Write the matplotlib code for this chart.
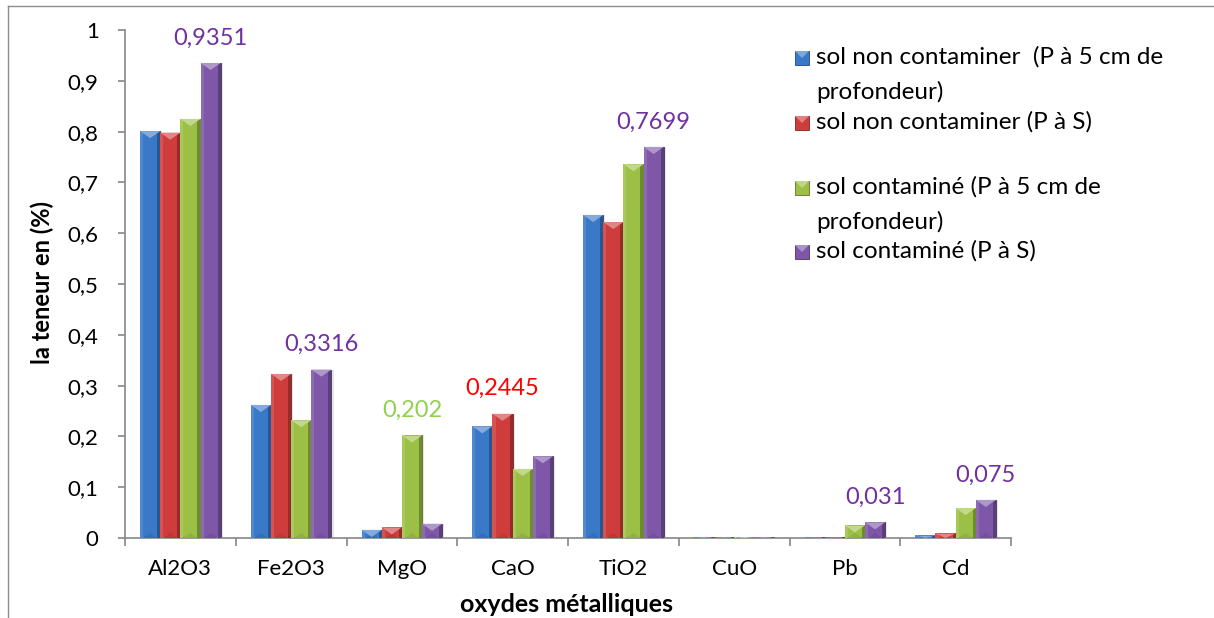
import numpy as np
import matplotlib
matplotlib.use("Agg")
import matplotlib.pyplot as plt
from matplotlib.patches import Rectangle, Polygon
from matplotlib.lines import Line2D
from matplotlib.colors import to_rgb

plt.rcParams['font.family'] = ['Lato', 'DejaVu Sans']

categories = ["Al2O3", "Fe2O3", "MgO", "CaO", "TiO2", "CuO", "Pb", "Cd"]
series_names = [
    "sol non contaminer  (P à 5 cm de\nprofondeur)",
    "sol non contaminer (P à S)",
    "sol contaminé (P à 5 cm de\nprofondeur)",
    "sol contaminé (P à S)",
]
non_cont_5cm = [0.801, 0.262, 0.016, 0.220, 0.636, 0.002, 0.001, 0.005]
non_cont_s = [0.798, 0.323, 0.021, 0.2445, 0.622, 0.002, 0.001, 0.009]
cont_5cm = [0.825, 0.232, 0.202, 0.136, 0.736, 0.002, 0.025, 0.059]
cont_s = [0.9351, 0.3316, 0.028, 0.161, 0.7699, 0.002, 0.031, 0.075]
series = [non_cont_5cm, non_cont_s, cont_5cm, cont_s]

# (series index, category index) pairs that carry a value label
labelled = [(3, 0), (3, 1), (2, 2), (1, 3), (3, 4), (3, 6), (3, 7)]

colors = ["#3a78c8", "#cf3c3c", "#9cc046", "#7e57a9"]
label_colors = ["#3a78c8", "#ff0000", "#92d050", "#7030a0"]
yticks = np.arange(0, 1.01, 0.1)


def mix(c, other, t):
    c = np.array(to_rgb(c))
    o = np.array(to_rgb(other))
    return tuple(c * (1 - t) + o * t)


W, H, DPI = 1214, 618, 100
fig = plt.figure(figsize=(W / DPI, H / DPI), dpi=DPI)
ax = fig.add_axes([125 / W, 1 - 538 / H, (1011 - 125) / W, (538 - 30) / H])

n = len(series)
bw = 0.182
x = np.arange(len(categories))
for i, vals in enumerate(series):
    pos = x + (i - (n - 1) / 2) * bw
    # soft drop shadow to the right of each bar
    ax.bar(pos + 0.02, vals, width=bw, color=(0, 0, 0, 0.10), linewidth=0, zorder=1)
    ax.bar(pos, vals, width=bw, color=colors[i], edgecolor=mix(colors[i], "black", 0.45),
           linewidth=0.6, zorder=2)
    for cx, h in zip(pos, vals):
        x0, x1 = cx - bw / 2, cx + bw / 2
        side = 0.028
        # shading on the bevelled sides
        ax.add_patch(Rectangle((x0, 0), side, h, facecolor=mix(colors[i], "white", 0.12),
                               edgecolor="none", zorder=3))
        ax.add_patch(Rectangle((x1 - side, 0), side, h, facecolor=mix(colors[i], "black", 0.28),
                               edgecolor="none", zorder=3))
        # bevelled top facet
        d = min(0.014, h)
        ax.add_patch(Polygon([(x0, h), (x1, h), (cx, h - d)], closed=True,
                             facecolor=mix(colors[i], "white", 0.38), edgecolor="none", zorder=4))
        # faint bottom facet
        db = min(0.010, h / 2)
        ax.add_patch(Polygon([(x0 + side, 0), (x1 - side, 0), (cx, db)], closed=True,
                             facecolor=mix(colors[i], "black", 0.08), edgecolor="none", zorder=3))

for si, ci in labelled:
    v = series[si][ci]
    cx = ci + (si - (n - 1) / 2) * bw
    ax.annotate(str(v).replace(".", ","), (cx, v), xytext=(0, 25), textcoords="offset pixels",
                ha="center", va="center", fontsize=17, color=label_colors[si])

ax.set_xlim(-0.5, len(categories) - 0.5)
ax.set_ylim(0, 1)
ax.set_yticks(yticks)
ax.set_yticklabels([("%g" % t).replace(".", ",") for t in np.round(yticks, 1)], fontsize=16)
ax.set_xticks(x)
ax.set_xticklabels(categories, fontsize=16)
ax.set_xticks(np.arange(-0.5, len(categories), 1.0), minor=True)
ax.tick_params(axis="x", which="major", length=0, pad=15)
ax.tick_params(axis="x", which="minor", length=6, width=1.2, color="#868686", direction="out")
ax.tick_params(axis="y", which="major", length=5, width=1.2, color="#868686", direction="out", pad=14)
for s in ["top", "right"]:
    ax.spines[s].set_visible(False)
for s in ["left", "bottom"]:
    ax.spines[s].set_color("#868686")
    ax.spines[s].set_linewidth(1.2)

fig.text(42 / W, 1 - 283 / H, "la teneur en (%)", rotation=90, ha="center", va="center",
         fontsize=17, fontweight="bold")
fig.text(566 / W, 1 - 604 / H, "oxydes métalliques", ha="center", va="center",
         fontsize=18, fontweight="bold")

# legend drawn in figure pixels
legend_rows = [58, 123, 188, 252]
for i, (name, yc) in enumerate(zip(series_names, legend_rows)):
    yb = 1 - (yc + 7) / H
    sq = 14
    fig.patches.append(Rectangle((795 / W, yb), sq / W, sq / H, transform=fig.transFigure,
                                 facecolor=colors[i], edgecolor=mix(colors[i], "black", 0.4),
                                 linewidth=0.6))
    fig.patches.append(Polygon([(795 / W, yb + sq / H), ((795 + sq) / W, yb + sq / H),
                                ((795 + sq / 2) / W, yb + sq / 2 / H)], closed=True,
                               transform=fig.transFigure, facecolor=mix(colors[i], "white", 0.35),
                               edgecolor="none"))
    fig.text(816 / W, 1 - (yc - 12) / H, name, ha="left", va="top", fontsize=17.5,
             linespacing=1.75)

# outer frame lines
fig.add_artist(Line2D([8 / W, 8 / W], [0, 1 - 6 / H], transform=fig.transFigure,
                      color="#8c8c8c", linewidth=1))
fig.add_artist(Line2D([8 / W, 1], [1 - 6 / H, 1 - 6 / H], transform=fig.transFigure,
                      color="#8c8c8c", linewidth=1))

fig.savefig("out.png", dpi=DPI)
